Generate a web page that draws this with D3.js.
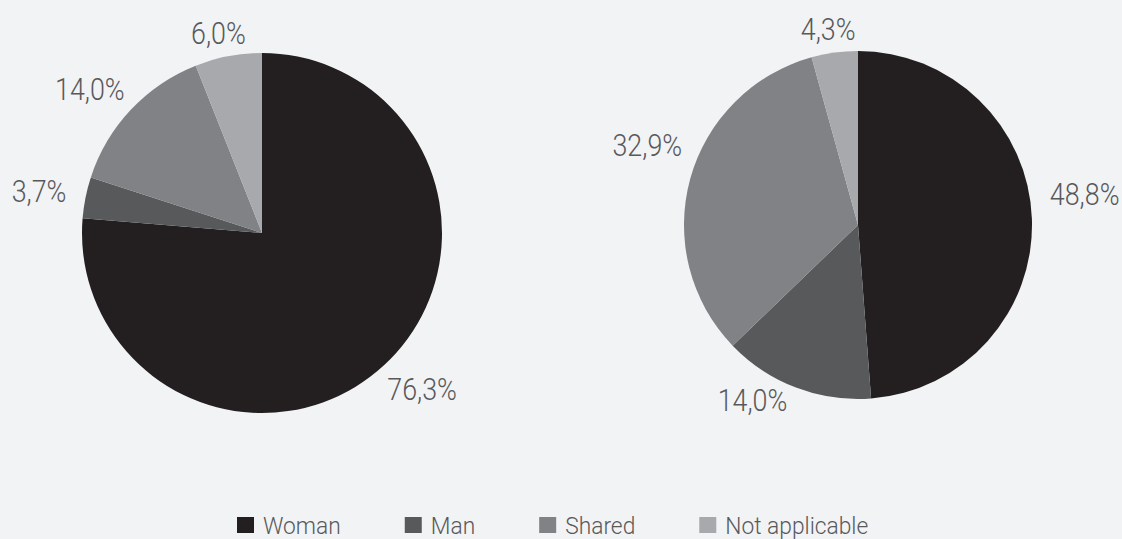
<!DOCTYPE html>
<html>
<head>
<meta charset="utf-8">
<script src="https://cdn.jsdelivr.net/npm/d3@7"></script>
<style>
  html, body { margin: 0; padding: 0; background: #f2f3f5; }
  svg { display: block; font-family: Roboto, "Noto Sans", sans-serif; font-weight: 300; }
</style>
</head>
<body>
<svg id="chart" width="1122" height="539"></svg>
<script>
// Categories, in drawing order (clockwise from 12 o'clock)
const categories = ["Woman", "Man", "Shared", "Not applicable"];
const colors = ["#231f20", "#58595b", "#808285", "#a7a9ac"];

// Shares (%) for each pie
const leftValues = [76.3, 3.7, 14.0, 6.0];
const rightValues = [48.8, 14.0, 32.9, 4.3];

// Layout of the two pies
const pies = [
  { values: leftValues,  cx: 262, cy: 233, r: 180,
    nudge: [[1, 1], [0, 0], [-1, 0], [-1, 7]] },
  { values: rightValues, cx: 858, cy: 225, r: 174,
    nudge: [[-2, -23], [-24, -16], [10, -26], [0, 7]] }
];

const svg = d3.select("#chart");
svg.append("rect").attr("width", 1122).attr("height", 539).attr("fill", "#f2f3f5");

const color = d3.scaleOrdinal().domain(categories).range(colors);
const fmt = v => d3.format(".1f")(v).replace(".", ",") + "%";

// Narrow, tall percentage labels
const labelSize = 30.5, labelSquash = 0.88, labelGap = 20;

pies.forEach(p => {
  const data = categories.map((c, i) => ({ cat: c, value: p.values[i] }));
  const arcs = d3.pie().sort(null).value(d => d.value)(data);
  const arc = d3.arc().innerRadius(0).outerRadius(p.r);

  const g = svg.append("g").attr("transform", `translate(${p.cx},${p.cy})`);
  g.selectAll("path").data(arcs).join("path")
    .attr("d", arc)
    .attr("fill", d => color(d.data.cat));

  // Outside-end labels: anchor point just past the rim, box pushed outward
  arcs.forEach((d, i) => {
    const a = (d.startAngle + d.endAngle) / 2;
    const s = Math.sin(a), c = Math.cos(a);
    const t = g.append("text")
      .attr("text-anchor", "middle")
      .attr("font-size", labelSize)
      .attr("fill", "#58595b")
      .text(fmt(d.data.value));
    const w = t.node().getComputedTextLength() * labelSquash;
    const h = labelSize * 0.711;
    const px = (p.r + labelGap) * s, py = -(p.r + labelGap) * c;
    const bx = px + s * w / 2 + p.nudge[i][0];
    const by = py - c * h / 2 + p.nudge[i][1];
    t.attr("transform", `translate(${bx},${by + h / 2}) scale(${labelSquash},1)`);
  });
});

// Legend along the bottom
const legendSize = 24.5, legendSquash = 0.93;
const legend = svg.append("g").attr("transform", "translate(237,0)");
let x = 0;
categories.forEach(c => {
  const item = legend.append("g").attr("transform", `translate(${x},0)`);
  item.append("rect").attr("x", 0).attr("y", 517).attr("width", 17).attr("height", 16)
    .attr("fill", color(c));
  const t = item.append("text")
    .attr("transform", `translate(26,533.5) scale(${legendSquash},1)`)
    .attr("font-size", legendSize).attr("fill", "#58595b").text(c);
  x += 26 + t.node().getComputedTextLength() * legendSquash + 64;
});
</script>
</body>
</html>
